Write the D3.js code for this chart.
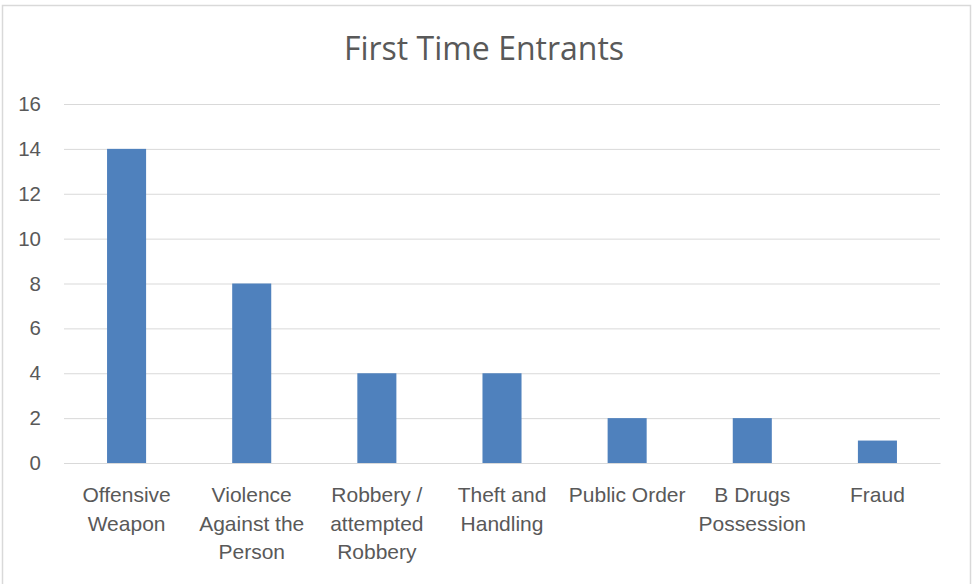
<!DOCTYPE html>
<html>
<head>
<meta charset="utf-8">
<script src="https://cdn.jsdelivr.net/npm/d3@7"></script>
<style>
  body { margin: 0; background: #fff; }
  svg { display: block; font-family: "Open Sans", "Noto Sans", sans-serif; }
</style>
</head>
<body>
<svg></svg>
<script>
// data
const categories = ["Offensive Weapon", "Violence Against the Person", "Robbery / attempted Robbery",
                    "Theft and Handling", "Public Order", "B Drugs Possession", "Fraud"];
const tickLabels = [["Offensive", "Weapon"], ["Violence", "Against the", "Person"],
                    ["Robbery /", "attempted", "Robbery"], ["Theft and", "Handling"],
                    ["Public Order"], ["B Drugs", "Possession"], ["Fraud"]];
const values = [14, 8, 4, 4, 2, 2, 1];
const yTicks = [0, 2, 4, 6, 8, 10, 12, 14, 16];

const svgSize = { width: 974, height: 584 };
const margin = { top: 104, right: 34, bottom: 121, left: 64 };
const width = svgSize.width - margin.left - margin.right;
const height = svgSize.height - margin.top - margin.bottom;

const svg = d3.select("svg")
  .attr("width", svgSize.width)
  .attr("height", svgSize.height);

// chart area border
svg.append("rect")
  .attr("x", 2.5).attr("y", 5.5)
  .attr("width", 968).attr("height", 600)
  .attr("fill", "none")
  .attr("stroke", "#d9d9d9")
  .attr("stroke-width", 1.5);

svg.append("text")
  .attr("x", 484).attr("y", 60)
  .attr("text-anchor", "middle")
  .attr("fill", "#595959")
  .style("font-size", "32px")
  .text("First Time Entrants");

const chart = svg.append("g")
  .attr("transform", `translate(${margin.left},${margin.top})`);

const x = d3.scaleBand()
  .domain(categories)
  .range([0, width])
  .paddingInner(0.688)
  .paddingOuter(0.344);

const y = d3.scaleLinear()
  .domain([0, 16])
  .range([height, 0]);

// gridlines
const yAxis = d3.axisLeft(y)
  .tickValues(yTicks)
  .tickSize(-width)
  .tickPadding(23);

chart.append("g")
  .attr("class", "y-axis")
  .call(yAxis)
  .call(g => g.select(".domain").remove())
  .call(g => g.selectAll(".tick line").attr("stroke", "#d9d9d9"))
  .call(g => g.selectAll(".tick text")
    .attr("fill", "#595959")
    .style("font-size", "20.5px"));

chart.selectAll(".bar")
  .data(values)
  .enter().append("rect")
  .attr("class", "bar")
  .attr("x", (d, i) => x(categories[i]))
  .attr("y", d => y(d))
  .attr("width", x.bandwidth())
  .attr("height", d => y(0) - y(d))
  .attr("fill", "#4f81bd");

// x axis baseline + wrapped labels
const xAxis = d3.axisBottom(x).tickSize(0).tickFormat("");
const xg = chart.append("g")
  .attr("transform", `translate(0,${height})`)
  .call(xAxis);
xg.select(".domain").attr("stroke", "#d9d9d9");

xg.selectAll(".tick").each(function(d, i) {
  const t = d3.select(this).append("text")
    .attr("fill", "#595959")
    .attr("text-anchor", "middle")
    .style("font-size", "21px");
  tickLabels[i].forEach((line, j) => {
    t.append("tspan")
      .attr("x", 0)
      .attr("y", 39 + j * 28.5)
      .text(line);
  });
});
</script>
</body>
</html>
